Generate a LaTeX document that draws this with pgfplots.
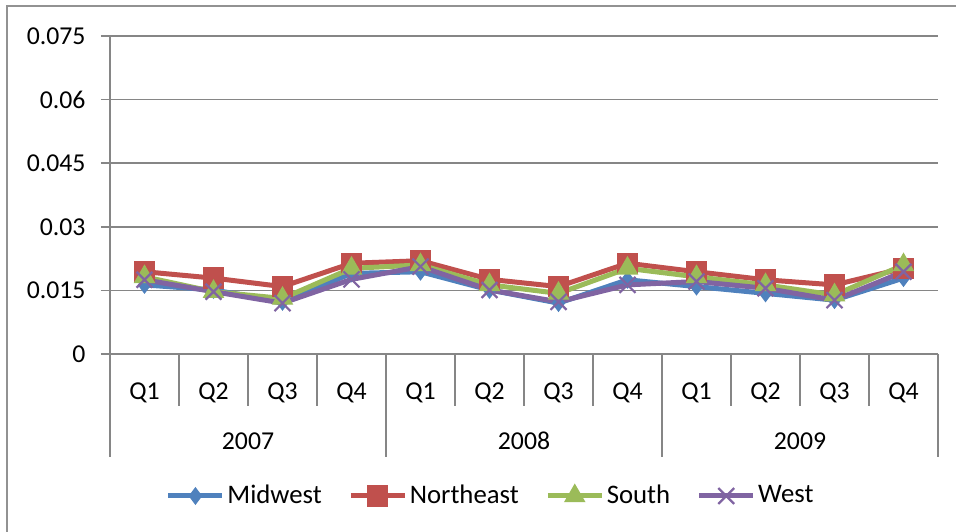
\documentclass[border=0pt]{standalone}
\usepackage{pgfplots}
\pgfplotsset{compat=1.18}
\usepackage{fontspec}
\setmainfont{Carlito}
\definecolor{cMid}{HTML}{4F81BD}
\definecolor{cNE}{HTML}{C0504D}
\definecolor{cSo}{HTML}{9BBB59}
\definecolor{cWe}{HTML}{8064A2}
\definecolor{gridgray}{HTML}{868686}
\begin{document}
\fontsize{10.3}{12}\selectfont
\begin{tikzpicture}[x=0.4pt,y=0.4pt,font=\fontsize{10.3}{12}\selectfont]
\useasboundingbox (-110,-178) rectangle (846,354);
\draw[gridgray!90, line width=1pt] (-103,-300) -- (-103,348) -- (900,348);
\begin{axis}[at={(0,0)}, anchor=south west, scale only axis,
  width=331.2pt, height=127.2pt,
  xmin=-0.5, xmax=11.5, ymin=0, ymax=0.075,
  scaled y ticks=false,
  axis x line*=bottom, axis y line*=left,
  axis line style={gridgray, line width=0.6pt, -},
  ytick={0,0.015,0.03,0.045,0.06,0.075},
  yticklabels={0,0.015,0.03,0.045,0.06,0.075},
  ymajorgrids, grid style={gridgray, line width=0.6pt},
  xtick={0,...,11},
  xticklabels={Q1,Q2,Q3,Q4,Q1,Q2,Q3,Q4,Q1,Q2,Q3,Q4},
  x tick style={draw=none}, y tick style={gridgray, line width=0.6pt},
  tick align=outside, major tick length=3.6pt,
  xticklabel style={anchor=base, inner sep=0pt, yshift=-14.8pt},
  yticklabel style={anchor=east, inner sep=0pt, xshift=-6pt},
  legend columns=4,
  legend style={at={(0.4601,-0.4465)}, anchor=center, draw=none, fill=none,
    font=\fontsize{10.7}{12}\selectfont, nodes={inner xsep=1pt},
    /tikz/every even column/.append style={column sep=9.6pt}},
  legend image code/.code={\draw[mark repeat=2,mark phase=2] plot coordinates {(0pt,0pt) (10.8pt,0pt) (21.6pt,0pt)};},
  every axis plot/.append style={line width=2pt},
]
\addplot[cMid, mark=diamond*, mark size=3.2pt, mark options={fill=cMid, line width=0.5pt}] coordinates {
(0,0.0163) (1,0.0151) (2,0.0123) (3,0.0190) (4,0.0194) (5,0.0151) (6,0.0120) (7,0.0175) (8,0.0159) (9,0.0143) (10,0.0127) (11,0.0179)};
\addlegendentry{Midwest}
\addplot[cNE, mark=square*, mark size=4pt, mark options={fill=cNE, line width=0.5pt}] coordinates {
(0,0.0194) (1,0.0179) (2,0.0159) (3,0.0214) (4,0.0220) (5,0.0176) (6,0.0159) (7,0.0214) (8,0.0194) (9,0.0175) (10,0.0163) (11,0.0202)};
\addlegendentry{Northeast}
\addplot[cSo, mark=triangle*, mark size=4.5pt, mark options={fill=cSo, line width=0.5pt}] coordinates {
(0,0.0182) (1,0.0147) (2,0.0131) (3,0.0202) (4,0.0210) (5,0.0163) (6,0.0143) (7,0.0202) (8,0.0182) (9,0.0163) (10,0.0139) (11,0.0210)};
\addlegendentry{South}
\addplot[cWe, mark=x, mark size=4.5pt, mark options={line width=0.9pt}] coordinates {
(0,0.0175) (1,0.0147) (2,0.0120) (3,0.0176) (4,0.0206) (5,0.0151) (6,0.0123) (7,0.0163) (8,0.0171) (9,0.0155) (10,0.0127) (11,0.0194)};
\addlegendentry{West}
\end{axis}
\foreach \k in {1,2,3,5,6,7,9,10,11} \draw[gridgray, line width=0.6pt] (\k*69,0) -- (\k*69,-52);
\foreach \k in {0,4,8,12} \draw[gridgray, line width=0.6pt] (\k*69,0) -- (\k*69,-103);
\node[anchor=base, inner sep=0pt] at (138,-96) {2007};
\node[anchor=base, inner sep=0pt] at (414,-96) {2008};
\node[anchor=base, inner sep=0pt] at (690,-96) {2009};
\end{tikzpicture}
\end{document}
